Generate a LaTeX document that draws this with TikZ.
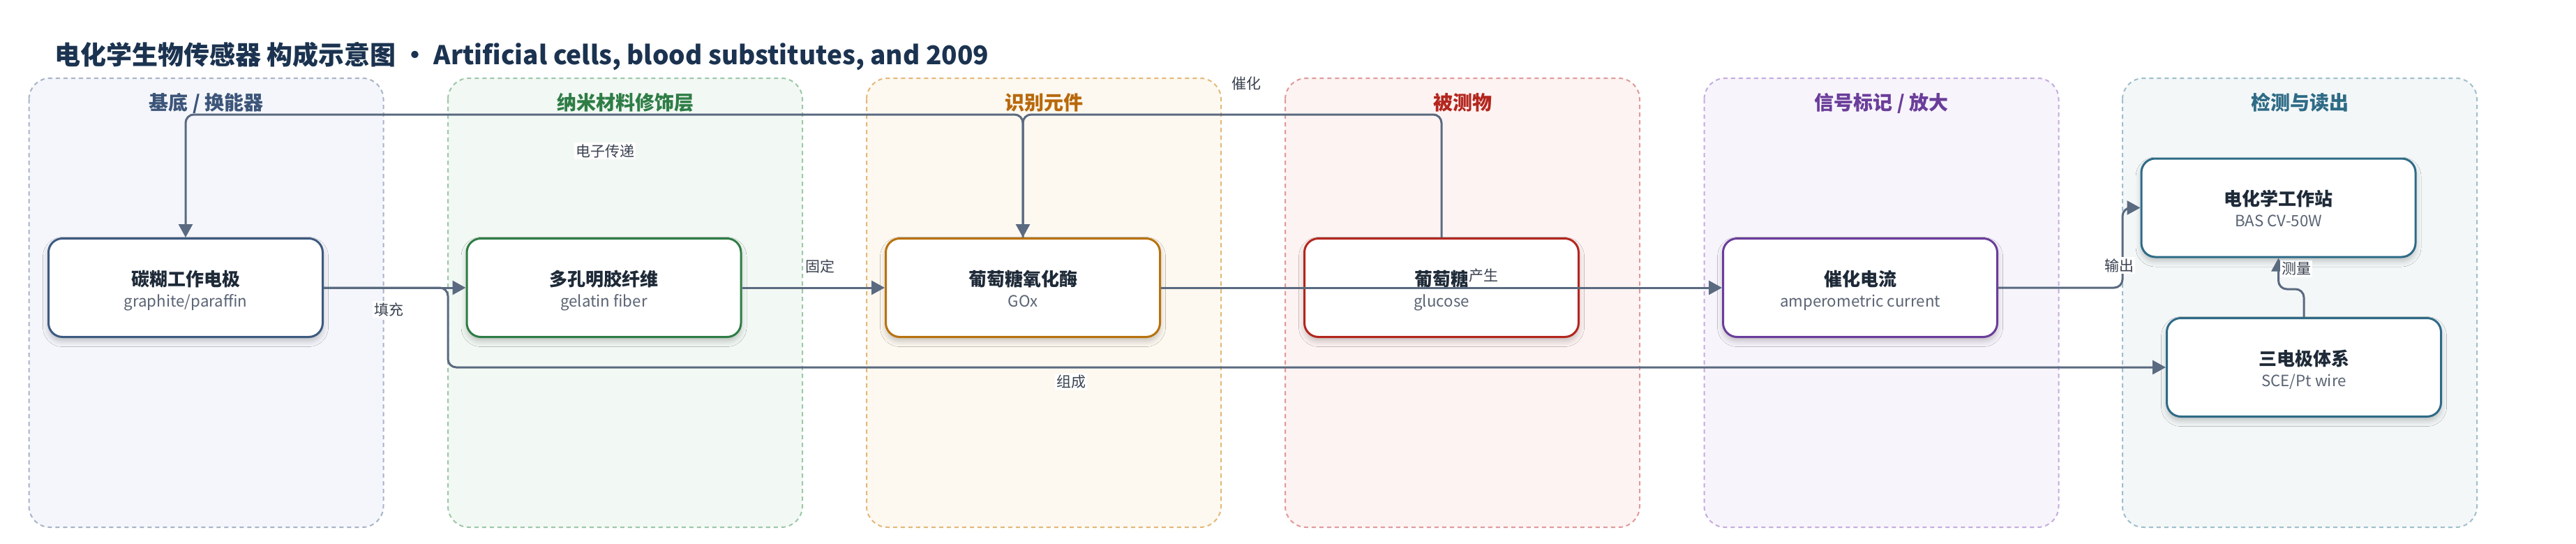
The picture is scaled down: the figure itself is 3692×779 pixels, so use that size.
\documentclass[tikz,border=0pt]{standalone}
\usepackage{fontspec}
\setmainfont{Noto Sans CJK SC}
\usetikzlibrary{arrows.meta,shadows.blur}
\definecolor{linec}{HTML}{5A6A80}
\definecolor{titlec}{HTML}{1B3350}
\definecolor{ntc}{HTML}{1E2A38}
\definecolor{nsc}{HTML}{5A6474}
\definecolor{labc}{HTML}{3A4250}
\definecolor{gAb}{HTML}{A8B4C8}\definecolor{gAf}{HTML}{F4F6FB}\definecolor{gAt}{HTML}{3C5579}\definecolor{nA}{HTML}{3D5A80}
\definecolor{gBb}{HTML}{9CC8A8}\definecolor{gBf}{HTML}{F2F8F3}\definecolor{gBt}{HTML}{2E7D46}\definecolor{nB}{HTML}{2E7D46}
\definecolor{gCb}{HTML}{E3B878}\definecolor{gCf}{HTML}{FDF8F0}\definecolor{gCt}{HTML}{B8680A}\definecolor{nC}{HTML}{B8720E}
\definecolor{gDb}{HTML}{E09A9A}\definecolor{gDf}{HTML}{FDF3F2}\definecolor{gDt}{HTML}{B3261E}\definecolor{nD}{HTML}{B3261E}
\definecolor{gEb}{HTML}{C4ACDF}\definecolor{gEf}{HTML}{F7F4FB}\definecolor{gEt}{HTML}{6A3D9A}\definecolor{nE}{HTML}{6A3D9A}
\definecolor{gFb}{HTML}{9FBFCC}\definecolor{gFf}{HTML}{F3F7F8}\definecolor{gFt}{HTML}{2E6B86}\definecolor{nF}{HTML}{2E6B86}
\tikzset{
  grp/.style={line width=2pt, dash pattern=on 6pt off 5pt, rounded corners=30pt},
  gtitle/.style={anchor=base, inner sep=0pt, font=\fontsize{28}{32}\selectfont\bfseries},
  box/.style={fill=white, line width=3pt, rounded corners=20pt, minimum width=393pt, minimum height=141pt,
    blur shadow={shadow xshift=0pt, shadow yshift=-6pt, shadow opacity=22, shadow blur radius=8pt}},
  ntitle/.style={anchor=base, inner sep=0pt, text=ntc, font=\fontsize{26}{30}\selectfont\bfseries},
  nsub/.style={anchor=base, inner sep=0pt, text=nsc, font=\fontsize{22.3}{26}\selectfont},
  edge/.style={draw=linec, line width=3pt, rounded corners=12pt},
  arr/.style={-{Triangle[length=19pt,width=20pt]}},
  elabel/.style={fill=white, inner sep=2pt, text=labc, font=\fontsize{21}{24}\selectfont}
}
\newcommand\grp[6]{%
  \draw[grp, draw=#3, fill=#4] (#2,112) rectangle ++(508,643);
  \node[gtitle, text=#5] (#1) at (#2+254,157) {#6};
}
\newcommand\blk[6]{%
  \node[box, draw=#4] (#1) at (#2,#3) {};
  \node[ntitle] (#1t) at (#2,#3-3) {#5};
  \node[nsub] (#1s) at (#2,#3+27) {#6};
}
\begin{document}
\begin{tikzpicture}[x=1pt,y=-1pt]
\useasboundingbox (0,0) rectangle (3692,779);
\fill[white] (0,0) rectangle (3692,779);
\node[anchor=base west, inner sep=0pt, text=titlec, font=\fontsize{37}{44}\selectfont\bfseries] (title) at (78,92)
  {电化学生物传感器 构成示意图 · Artificial cells, blood substitutes, and 2009};
\grp{g1}{41.5}{gAb}{gAf}{gAt}{基底 / 换能器}
\grp{g2}{642}{gBb}{gBf}{gBt}{纳米材料修饰层}
\grp{g3}{1242}{gCb}{gCf}{gCt}{识别元件}
\grp{g4}{1842}{gDb}{gDf}{gDt}{被测物}
\grp{g5}{2442.5}{gEb}{gEf}{gEt}{信号标记 / 放大}
\grp{g6}{3042}{gFb}{gFf}{gFt}{检测与读出}
\blk{n1}{266}{412}{nA}{碳糊工作电极}{graphite/paraffin}
\blk{n2}{865.5}{412}{nB}{多孔明胶纤维}{gelatin fiber}
\blk{n3}{1466}{412}{nC}{葡萄糖氧化酶}{GOx}
\blk{n4}{2066}{412}{nD}{葡萄糖}{glucose}
\blk{n5}{2666}{412}{nE}{催化电流}{amperometric current}
\blk{n6}{3265.5}{297.5}{nF}{电化学工作站}{BAS CV-50W}
\blk{n7}{3302}{526}{nF}{三电极体系}{SCE/Pt wire}
\coordinate (j1) at (642,412);
\coordinate (t3) at (1466,164);
\coordinate (j5) at (3042,412);
\coordinate (j7) at (3302,414);
% edges
\draw[edge,arr] (n1.east) -- (n2.west);
\draw[edge,arr] (n1.east) -- (j1) |- (n7.west);
\draw[edge,arr] (n2.east) -- (n3.west);
\draw[edge,arr] (n3.north) -- (t3) -| (n1.north);
\draw[edge,arr] (n4.north) |- (t3) -- (n3.north);
\draw[edge,arr] (n3.east) -- (n5.west);
\draw[edge,arr] (n5.east) -- (j5) |- (n6.west);
\draw[edge,arr] (n7.north) -- (j7) -| (n6.south);
% labels
\node[elabel] (l1) at (557,443) {填充};
\node[elabel] (l2) at (1535,547) {组成};
\node[elabel] (l3) at (1175,381) {固定};
\node[elabel] (l4) at (867,216) {电子传递};
\node[elabel] (l5) at (1786,120) {催化};
\node[elabel] (l6) at (2126,395) {产生};
\node[elabel] (l7) at (3037,380) {输出};
\node[elabel] (l8) at (3291,385) {测量};
\end{tikzpicture}
\end{document}
